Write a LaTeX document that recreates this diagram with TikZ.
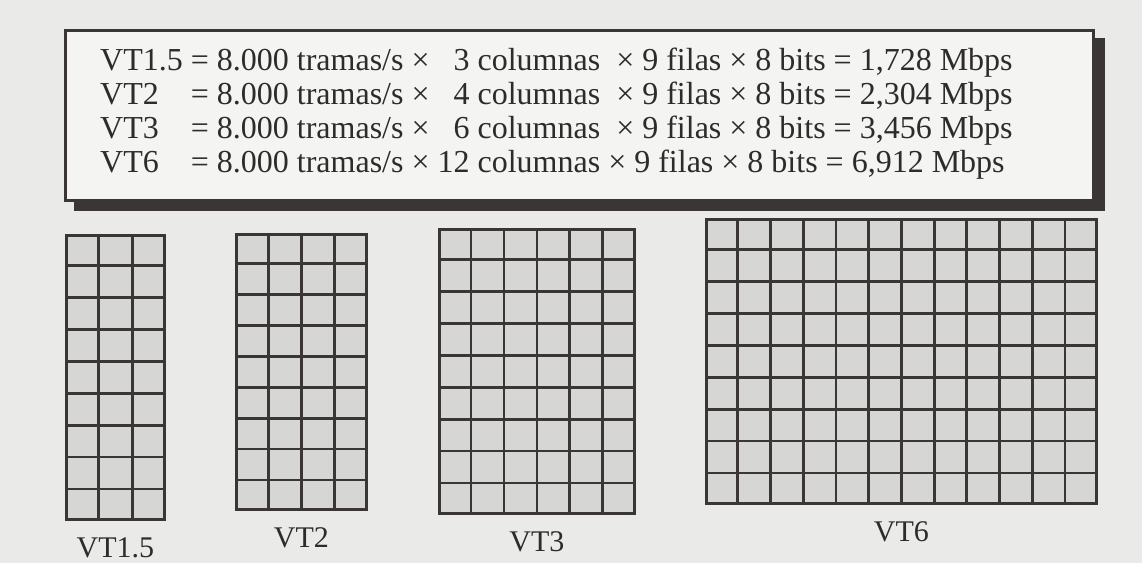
\documentclass[tikz,border=0pt]{standalone}
\usepackage{fontspec}
\setmainfont{Liberation Serif}
\usetikzlibrary{positioning,calc,backgrounds}
\definecolor{paper}{HTML}{EAEAE8}
\definecolor{boxbg}{HTML}{F4F4F2}
\definecolor{ink}{HTML}{3A3636}
\definecolor{cellgray}{HTML}{D6D6D4}

\begin{document}
\begin{tikzpicture}[x=1pt, y=-1pt,
  framebox/.style={draw=ink, line width=2.6pt, fill=boxbg, inner sep=0pt},
  vtgrid/.style={draw=ink, line width=2.8pt, fill=cellgray, inner sep=0pt, anchor=north west},
  cellline/.style={draw=ink, line width=2.8pt},
  vtlabel/.style={inner sep=0pt, text=ink!80!black, font=\fontsize{30}{34}\selectfont}]
\useasboundingbox (0,0) rectangle (1142,563);

% box with the rates
\node[framebox, minimum width=1028pt, minimum height=170pt, anchor=north west] (rates) at (64,29) {};
\node[inner sep=0pt, anchor=west, text=ink!80!black, font=\fontsize{32}{34}\selectfont] (formulas) at ([xshift=36pt,yshift=1pt]rates.west) {%
\begin{tabular}{@{}l@{ }l@{\ }r@{ }l@{}}
VT1.5 & = 8.000 tramas/s × & 3 & columnas \ × 9 filas × 8 bits = 1,728 Mbps\\
VT2 & = 8.000 tramas/s × & 4 & columnas \ × 9 filas × 8 bits = 2,304 Mbps\\
VT3 & = 8.000 tramas/s × & 6 & columnas \ × 9 filas × 8 bits = 3,456 Mbps\\
VT6 & = 8.000 tramas/s × & 12 & columnas × 9 filas × 8 bits = 6,912 Mbps
\end{tabular}};

\begin{scope}[on background layer]
\fill[paper] (0,0) rectangle (1142,563);
\fill[ink] ([xshift=10pt,yshift=-9pt]rates.north west) rectangle ([xshift=10pt,yshift=-9pt]rates.south east);
\end{scope}

% the four frames, 9 rows each
\foreach \vt/\cols/\gx/\gy/\gw/\gh/\lbl in {vt15/3/65/234/98/284/VT1.5, vt2/4/235/233/130/275/VT2, vt3/6/438/228/195/284/VT3, vt6/12/705/218/390/284/VT6}{
  \node[vtgrid, minimum width=\gw pt, minimum height=\gh pt] (\vt) at (\gx,\gy) {};
  \pgfmathtruncatemacro\lastcol{\cols-1}
  \foreach \i in {1,...,\lastcol}
    \draw[cellline] ($(\vt.north west)!\i/\cols!(\vt.north east)$) -- ($(\vt.south west)!\i/\cols!(\vt.south east)$);
  \foreach \j in {1,...,8}
    \draw[cellline] ($(\vt.north west)!\j/9!(\vt.south west)$) -- ($(\vt.north east)!\j/9!(\vt.south east)$);
  \node[vtlabel, below=17pt of \vt] (\vt-label) {\lbl};
}
\end{tikzpicture}
\end{document}
